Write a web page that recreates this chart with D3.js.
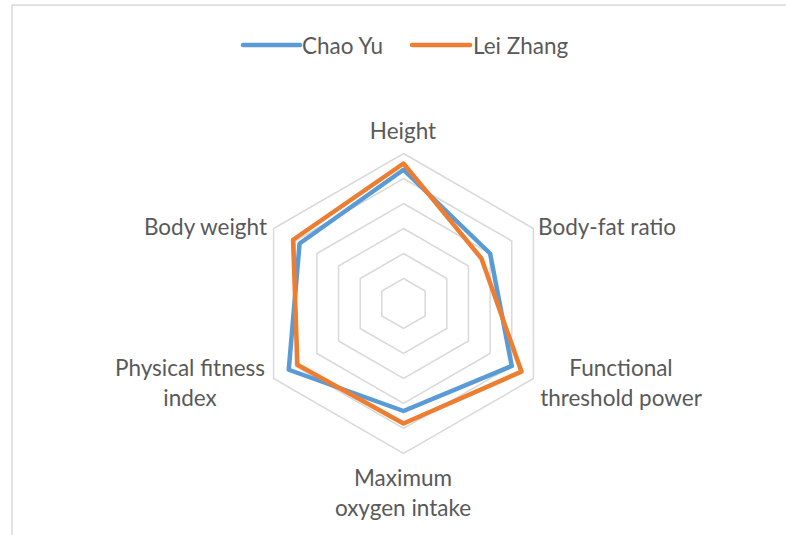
<!DOCTYPE html>
<html><head><meta charset="utf-8">
<script src="https://cdn.jsdelivr.net/npm/d3@7"></script>
<style>
html,body{margin:0;padding:0;background:#fff;}
svg{display:block;}
text{font-family:Lato,"Open Sans",sans-serif;fill:#595959;}
</style></head>
<body>
<svg id="chart" width="786" height="535"></svg>
<script>
const categories = ["Height","Body-fat ratio","Functional threshold power","Maximum oxygen intake","Physical fitness index","Body weight"];
const labelLines = [["Height"],["Body-fat ratio"],["Functional","threshold power"],["Maximum","oxygen intake"],["Physical fitness","index"],["Body weight"]];
const seriesNames = ["Chao Yu","Lei Zhang"];
const chaoYu = [107, 80, 100, 86, 106, 96];
const leiZhang = [112, 72, 109, 96, 98, 102];
const gridTicks = [20, 40, 60, 80, 100, 120];
const colors = ["#5B9BD5", "#ED7D31"];

const svg = d3.select("#chart");
const W = 786, H = 535;
svg.append("rect").attr("x",12).attr("y",5).attr("width",W).attr("height",H)
  .attr("fill","#fff").attr("stroke","#d9d9d9").attr("stroke-width",1.5);

const cx = 403.5, cy = 303.5, R = 150;
const r = d3.scaleLinear().domain([0,120]).range([0,R]);
const angle = d3.scaleLinear().domain([0,categories.length]).range([0,2*Math.PI]);
const pt = (i,v) => [cx + r(v)*Math.sin(angle(i)), cy - r(v)*Math.cos(angle(i))];

const g = svg.append("g");
const lineGen = d3.line().curve(d3.curveLinearClosed);
gridTicks.forEach(t => {
  g.append("path").attr("d", lineGen(categories.map((c,i)=>pt(i,t))))
   .attr("fill","none").attr("stroke","#d9d9d9").attr("stroke-width",1.5);
});

[chaoYu, leiZhang].forEach((s,k) => {
  g.append("path").attr("d", lineGen(s.map((v,i)=>pt(i,v))))
   .attr("fill","none").attr("stroke",colors[k]).attr("stroke-width",4.5)
   .attr("stroke-linejoin","round");
});

const FS = 22.5;
// axis labels
const labelPos = [
  {x:403, y:130, anchor:"middle"},
  {x:538, y:226, anchor:"start"},
  {x:621, y:367, anchor:"middle"},
  {x:403, y:477, anchor:"middle"},
  {x:190, y:367, anchor:"middle"},
  {x:267, y:226, anchor:"end"}
];
labelLines.forEach((lines,i) => {
  const p = labelPos[i];
  lines.forEach((ln,j) => {
    svg.append("text").attr("x",p.x).attr("y",p.y + j*30)
      .attr("text-anchor",p.anchor).attr("dominant-baseline","central")
      .attr("font-size",FS).text(ln);
  });
});

// legend
const legend = [{x1:243,x2:300,tx:302},{x1:412,x2:470,tx:473}];
seriesNames.forEach((n,k) => {
  const L = legend[k];
  svg.append("line").attr("x1",L.x1).attr("x2",L.x2).attr("y1",45).attr("y2",45)
    .attr("stroke",colors[k]).attr("stroke-width",4.5).attr("stroke-linecap","round");
  svg.append("text").attr("x",L.tx).attr("y",45).attr("dominant-baseline","central")
    .attr("font-size",FS).text(n);
});
</script>
</body></html>
